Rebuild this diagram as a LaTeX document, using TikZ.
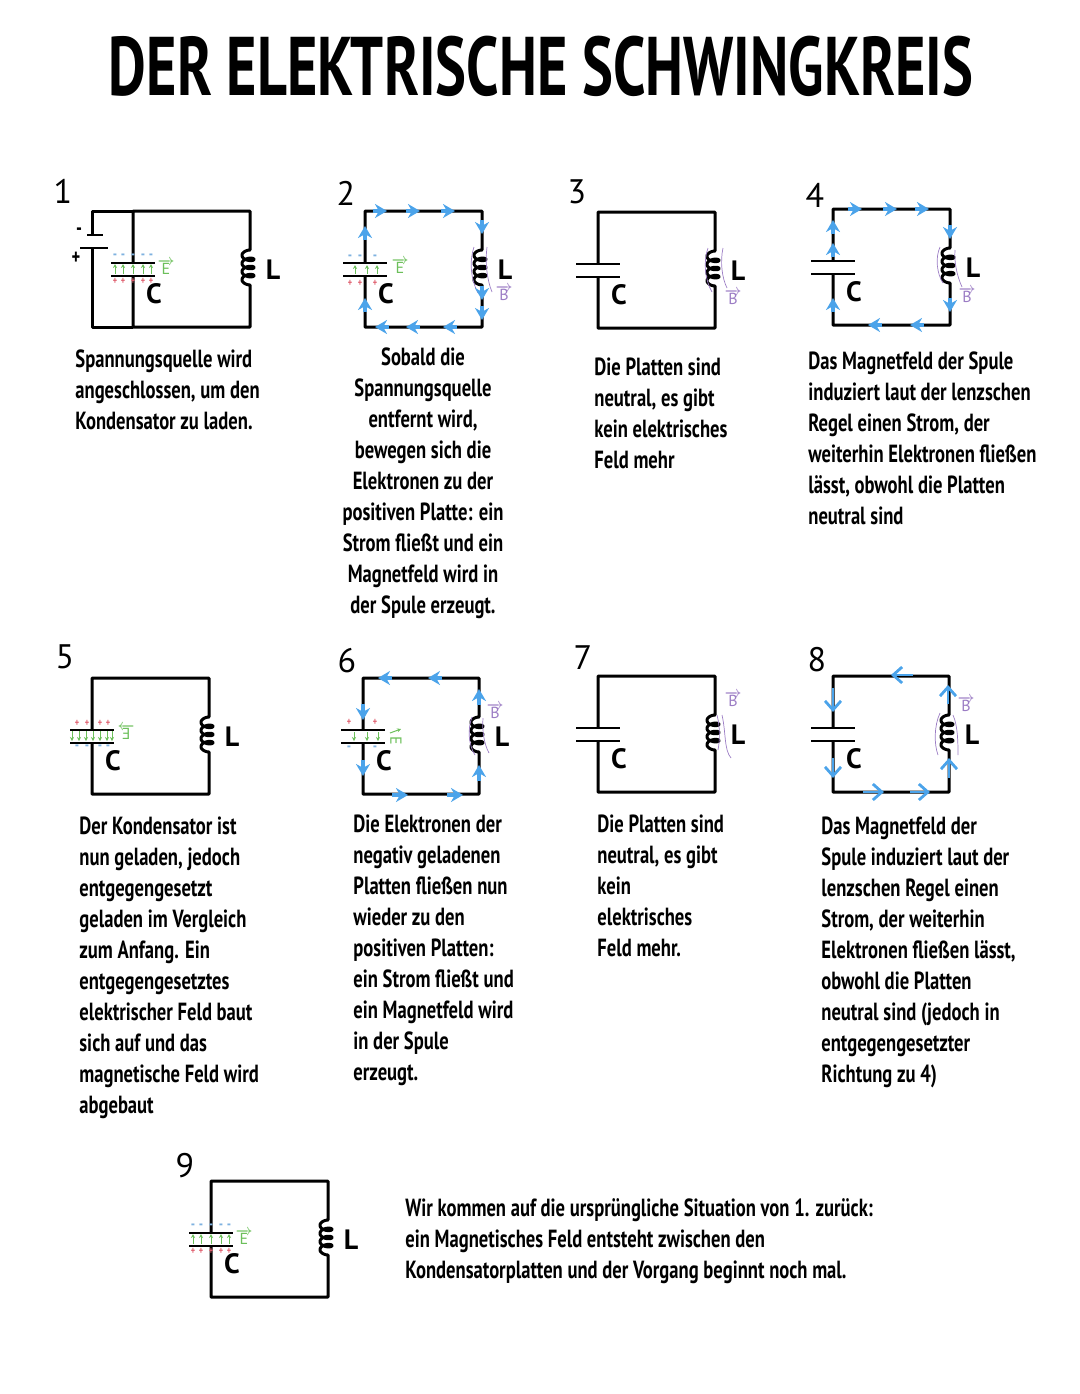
\documentclass[tikz,border=0pt]{standalone}
\usepackage{fontspec}
\setmainfont{PT Sans}
\newfontfamily\dinfont[FakeStretch=0.75]{PT Sans Bold}
\newfontfamily\titlefont[FakeStretch=0.7]{PT Sans Bold}
\usetikzlibrary{arrows.meta}
\definecolor{curblue}{HTML}{4BA3EA}
\definecolor{chargeblue}{HTML}{7FB2E0}
\definecolor{chargered}{HTML}{E0606F}
\definecolor{fieldgreen}{HTML}{6CBF5A}
\definecolor{fieldpurple}{HTML}{9B7CC4}
\tikzset{
  wire/.style={line width=1.5pt,line join=round},
  plate/.style={line width=1.3pt},
  current/.style={draw=curblue,line width=1.8pt,-{Stealth[length=6pt,width=7pt]}},
  currentopen/.style={draw=curblue,line width=1.4pt,-{Straight Barb[length=4.5pt,width=8pt]}},
  fieldline/.style={draw=fieldpurple,line width=0.35pt},
  efieldarrow/.style={draw=fieldgreen,line width=0.5pt,-{Stealth[length=2pt,width=2pt]}},
  desc/.style={anchor=north west,align=left,inner sep=0pt,font=\dinfont\fontsize{12.4}{15.55}\selectfont},
  handlabel/.style={inner sep=0pt,font=\fontsize{14}{14}\selectfont\bfseries},
  numlabel/.style={inner sep=0pt,font=\fontsize{17}{18}\selectfont},
  plus/.style={inner sep=0pt,text=chargered,font=\dinfont\fontsize{5.5}{5}\selectfont},
  minus/.style={inner sep=0pt,text=chargeblue,font=\dinfont\fontsize{8}{5}\selectfont},
  efield/.style={inner sep=0pt,text=fieldgreen,font=\fontsize{8}{9}\selectfont},
  bfield/.style={inner sep=0pt,text=fieldpurple,font=\fontsize{8}{9}\selectfont}
}
\begin{document}
\begin{tikzpicture}[x=0.5pt,y=-0.5pt]
\useasboundingbox (0,0) rectangle (1080,1394);

% Title
\node[inner sep=0pt,font=\titlefont\fontsize{41.6}{44}\selectfont] (title) at (541,66) {DER ELEKTRISCHE SCHWINGKREIS};

% Circuits: number, left, top, width, capacitor offset
\foreach \idx/\xl/\yt/\rw/\cx in {1/92/211/158/41,2/365/211/117/0,3/598/212/117/0,4/833/209/117/0,5/92/678/117/0,6/363/678/116/0,7/598/676/117/0,8/833/676/116/0,9/211/1181/117/0} {
  \begin{scope}[shift={(\xl,\yt)}]
    \draw[wire] (\cx,52) -- (\cx,0) -- (\rw,0) -- (\rw,39)
      -- plot[domain=-110:1190,samples=120,smooth,variable=\t] ({\rw-2-6*cos(\t)},{39+(\t+110)*0.0226+2.8+3*sin(\t)})
      -- (\rw,116) -- (\cx,116) -- (\cx,65);
    \foreach \by in {48.4,56.5,64.6} {\fill (\rw,\by) ellipse (4.5 and 1.8);}
    \draw[plate] (\cx-22,52) -- (\cx+22,52);
    \draw[plate] (\cx-22,65) -- (\cx+22,65);
    \node[handlabel] (c\idx) at (\cx+21,83) {C};
    \node[handlabel] (l\idx) at (\rw+23,59) {L};
  \end{scope}
}

% Battery of circuit 1
\draw[wire] (133,211) -- (92,211) -- (92,235);
\draw[wire] (92,248) -- (92,327) -- (133,327);
\draw[plate] (87,235) -- (103,235);
\draw[plate] (80,248) -- (108,248);
\node[inner sep=0pt,font=\dinfont\fontsize{11}{10}\selectfont] (batminus) at (79,232) {-};
\node[inner sep=0pt,font=\dinfont\fontsize{11}{10}\selectfont] (batplus) at (76,258) {+};

% Numbers
\node[numlabel] (n1) at (63,191) {1};
\node[numlabel] (n2) at (346,193) {2};
\node[numlabel] (n3) at (577,192) {3};
\node[numlabel] (n4) at (815,195) {4};
\node[numlabel] (n5) at (65,657) {5};
\node[numlabel] (n6) at (347,661) {6};
\node[numlabel] (n7) at (583,658) {7};
\node[numlabel] (n8) at (817,660) {8};
\node[numlabel] (n9) at (185,1166) {9};

% Charged plates 1 and 9
\foreach \cn/\xc/\ty in {a/133/211,b/211/1181} {
  \foreach \dx in {-18,-10,0,10,18} {
    \draw[efieldarrow] (\xc+\dx,\ty+63) -- (\xc+\dx,\ty+53);
    \node[minus] (m\cn\dx) at (\xc+\dx,\ty+46) {-};
    \node[plus] (p\cn\dx) at (\xc+\dx,\ty+70) {+};
  }
  \node[efield] (e\cn) at (\xc+33,\ty+56) {$\overrightarrow{\mbox{E}}$};
}

% Charged plates 2
\foreach \dx/\ex in {-15/-10,-5/2,10/12} {
  \draw[efieldarrow] (365+\ex,274) -- (365+\ex,265);
  \node[minus] (mb\ex) at (365+\dx,258) {-};
  \node[plus] (pb\ex) at (365+\dx,283) {+};
}
\node[efield] (e2) at (400,266) {$\overrightarrow{\mbox{E}}$};

% Charged plates 5
\foreach \dx in {-20,-13,-6,1,8,15,20} {
  \draw[efieldarrow] (92+\dx,731) -- (92+\dx,741);
}
\foreach \dx in {-15,-5,8,16} {
  \node[plus] (pe\dx) at (92+\dx,723) {+};
  \node[minus] (me\dx) at (92+\dx,748) {-};
}
\node[efield,xscale=-1] (e5) at (126,732) {$\overrightarrow{\mbox{E}}$};

% Charged plates 6
\foreach \px in {349,375} {
  \node[plus] (pf\px) at (\px,722) {+};
  \node[minus] (mf\px) at (\px,749) {-};
}
\foreach \ex in {354,367,378} {
  \draw[efieldarrow] (\ex,732) -- (\ex,741);
}
\node[efield,rotate=-90] (e6) at (396,741) {E};
\draw[efieldarrow] (390,733) -- (401,729);

% Field lines
\draw[fieldline] (474,247) .. controls (469,262) and (471,280) .. (478,293);
\draw[fieldline] (487,247) .. controls (485,262) and (487,280) .. (492,292);
\draw[fieldline] (708,248) .. controls (703,262) and (705,280) .. (712,292);
\draw[fieldline] (723,248) .. controls (720,262) and (722,278) .. (727,288);
\draw[fieldline] (940,247) .. controls (935,258) and (937,274) .. (943,283);
\draw[fieldline] (955,250) .. controls (954,262) and (957,276) .. (962,287);
\draw[fieldline] (472,717) .. controls (467,730) and (469,746) .. (475,755);
\draw[fieldline] (483,718) .. controls (482,730) and (484,744) .. (489,753);
\draw[fieldline] (717,715) .. controls (720,726) and (720,740) .. (718,750);
\draw[fieldline] (722,715) .. controls (726,732) and (724,750) .. (731,758);
\draw[fieldline] (940,713) .. controls (934,726) and (934,744) .. (938,755);
\draw[fieldline] (953,715) .. controls (958,726) and (958,744) .. (958,755);

% B vectors
\node[bfield] (b2) at (504,293) {$\overrightarrow{\mbox{B}}$};
\node[bfield] (b3) at (733,297) {$\overrightarrow{\mbox{B}}$};
\node[bfield] (b4) at (967,295) {$\overrightarrow{\mbox{B}}$};
\node[bfield] (b6) at (495,711) {$\overrightarrow{\mbox{B}}$};
\node[bfield] (b7) at (733,699) {$\overrightarrow{\mbox{B}}$};
\node[bfield] (b8) at (966,704) {$\overrightarrow{\mbox{B}}$};

% Current 2
\foreach \ax in {380,413,448} {\draw[current] (\ax-7,211) -- (\ax+7,211);}
\foreach \ay in {227,293,313} {\draw[current] (482,\ay-7) -- (482,\ay+7);}
\foreach \ax in {382,413,450} {\draw[current] (\ax+7,327) -- (\ax-7,327);}
\foreach \ay in {233,305} {\draw[current] (365,\ay+7) -- (365,\ay-7);}

% Current 4
\foreach \ax in {855,890,922} {\draw[current] (\ax-7,209) -- (\ax+7,209);}
\foreach \ay in {232,305} {\draw[current] (950,\ay-7) -- (950,\ay+7);}
\foreach \ax in {875,917} {\draw[current] (\ax+7,325) -- (\ax-7,325);}
\foreach \ay in {227,250,305} {\draw[current] (833,\ay+7) -- (833,\ay-7);}

% Current 6
\foreach \ax in {385,435} {\draw[current] (\ax+7,678) -- (\ax-7,678);}
\foreach \ay in {697,773} {\draw[current] (479,\ay+8) -- (479,\ay-8);}
\foreach \ax in {400,455} {\draw[current] (\ax-8,795) -- (\ax+8,795);}
\foreach \ay in {712,768} {\draw[current] (363,\ay-8) -- (363,\ay+8);}

% Current 8
\draw[currentopen] (913,675) -- (891,675);
\draw[currentopen] (948,704) -- (948,685);
\draw[currentopen] (949,778) -- (949,758);
\draw[currentopen] (863,792) -- (884,792);
\draw[currentopen] (910,792) -- (930,792);
\draw[currentopen] (833,688) -- (833,712);
\draw[currentopen] (833,758) -- (833,778);

% Texts
\node[desc] (t1) at (75,349) {Spannungsquelle wird\\angeschlossen, um den\\Kondensator zu laden.};
\node[desc,anchor=north,align=center] (t2) at (423,347) {Sobald die\\Spannungsquelle\\entfernt wird,\\bewegen sich die\\Elektronen zu der\\positiven Platte: ein\\Strom fließt und ein\\Magnetfeld wird in\\der Spule erzeugt.};
\node[desc] (t3) at (594,357) {Die Platten sind\\neutral, es gibt\\kein elektrisches\\Feld mehr};
\node[desc] (t4) at (808,351) {Das Magnetfeld der Spule\\induziert laut der lenzschen\\Regel einen Strom, der\\weiterhin Elektronen fließen\\lässt, obwohl die Platten\\neutral sind};
\node[desc] (t5) at (79,816) {Der Kondensator ist\\nun geladen, jedoch\\entgegengesetzt\\geladen im Vergleich\\zum Anfang. Ein\\entgegengesetztes\\elektrischer Feld baut\\sich auf und das\\magnetische Feld wird\\abgebaut};
\node[desc] (t6) at (353,814) {Die Elektronen der\\negativ geladenen\\Platten fließen nun\\wieder zu den\\positiven Platten:\\ein Strom fließt und\\ein Magnetfeld wird\\in der Spule\\erzeugt.};
\node[desc] (t7) at (597,814) {Die Platten sind\\neutral, es gibt\\kein\\elektrisches\\Feld mehr.};
\node[desc] (t8) at (821,816) {Das Magnetfeld der\\Spule induziert laut der\\lenzschen Regel einen\\Strom, der weiterhin\\Elektronen fließen lässt,\\obwohl die Platten\\neutral sind (jedoch in\\entgegengesetzter\\Richtung zu 4)};
\node[desc] (t9) at (405,1198) {Wir kommen auf die ursprüngliche Situation von 1. zurück:\\ein Magnetisches Feld entsteht zwischen den\\Kondensatorplatten und der Vorgang beginnt noch mal.};
\end{tikzpicture}
\end{document}
